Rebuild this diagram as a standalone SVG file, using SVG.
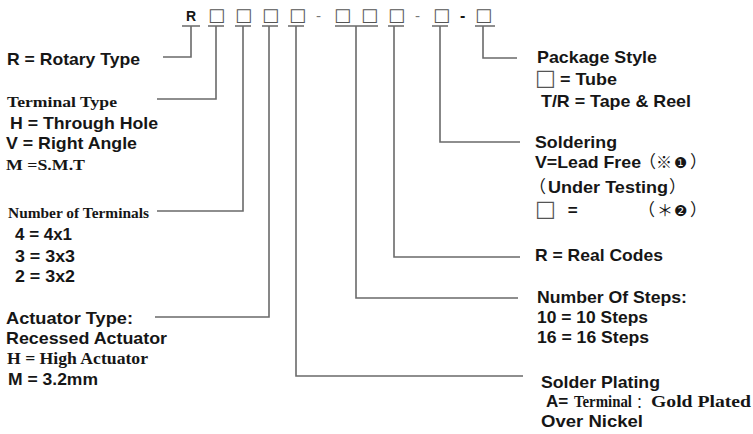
<svg xmlns="http://www.w3.org/2000/svg" width="753" height="434" viewBox="0 0 753 434">
<style>
.s{font-family:"Liberation Sans",Arial,sans-serif;font-weight:bold;font-size:17px;fill:#161616}
.r{font-family:"Liberation Serif","Times New Roman",serif;font-weight:bold;font-size:15px;fill:#161616}
.c{font-family:"Noto Sans CJK SC",sans-serif;font-weight:normal}
.d{font-family:"DejaVu Sans","Noto Sans CJK SC",sans-serif;font-weight:normal}
.bx{font-family:"DejaVu Sans",sans-serif;font-weight:normal;fill:#555}
.cb{font-family:"DejaVu Sans",sans-serif;font-weight:normal;fill:#555;font-size:18px}
.dash{font-family:"DejaVu Sans",sans-serif;font-weight:normal;fill:#777;font-size:14px}
.ln{fill:none;stroke:#6a6a6a;stroke-width:1.6}
</style>
<rect width="753" height="434" fill="#fff"/>
<g id="code">
<text class="s" x="186" y="21" style="font-size:14px">R</text>
<text class="cb" x="208" y="21">□</text>
<text class="cb" x="235" y="21">□</text>
<text class="cb" x="262" y="21">□</text>
<text class="cb" x="289" y="21">□</text>
<text class="dash" x="316" y="21">-</text>
<text class="cb" x="334" y="21">□</text>
<text class="cb" x="361" y="21">□</text>
<text class="cb" x="388" y="21">□</text>
<text class="dash" x="415" y="21">-</text>
<text class="cb" x="433" y="21">□</text>
<text class="s" x="460" y="21" style="font-size:16px">-</text>
<text class="cb" x="475" y="21">□</text>
</g>
<g id="connectors" class="ln">
<path d="M182,26H200M191,26V57H163"/>
<path d="M208,26H224M216,26V99H157"/>
<path d="M235,26H251M243,26V211H157"/>
<path d="M262,26H278M269,26V317H155"/>
<path d="M288,26H304M296,26V376H523"/>
<path d="M335,26H378M356,26V298H518"/>
<path d="M388,26H404M394,26V257H520"/>
<path d="M432,26H448M440,26V142H520"/>
<path d="M475,26H495M483,26V58H517"/>
</g>
<g id="rotary-type">
<text class="s" x="7" y="65" textLength="133" lengthAdjust="spacingAndGlyphs">R = Rotary Type</text>
</g>
<g id="terminal-type">
<text class="r" x="7" y="106.5" textLength="110" lengthAdjust="spacingAndGlyphs">Terminal Type</text>
<text class="s" x="10" y="128.5" textLength="148" lengthAdjust="spacingAndGlyphs">H = Through Hole</text>
<text class="s" x="6" y="148.5" textLength="131" lengthAdjust="spacingAndGlyphs">V = Right Angle</text>
<text class="r" x="6" y="169.5" textLength="79" lengthAdjust="spacingAndGlyphs">M =S.M.T</text>
</g>
<g id="number-of-terminals">
<text class="r" x="8" y="217.5" textLength="141" lengthAdjust="spacingAndGlyphs">Number of Terminals</text>
<text class="s" x="15" y="240" textLength="57" lengthAdjust="spacingAndGlyphs">4 = 4x1</text>
<text class="s" x="15" y="261.5" textLength="60" lengthAdjust="spacingAndGlyphs">3 = 3x3</text>
<text class="s" x="15" y="281.5" textLength="60" lengthAdjust="spacingAndGlyphs">2 = 3x2</text>
</g>
<g id="actuator-type">
<text class="s" x="6" y="324" textLength="127" lengthAdjust="spacingAndGlyphs">Actuator Type:</text>
<text class="s" x="6" y="344" textLength="161" lengthAdjust="spacingAndGlyphs">Recessed Actuator</text>
<text class="r" x="7" y="364" style="font-size:16px" textLength="141" lengthAdjust="spacingAndGlyphs">H = High Actuator</text>
<text class="s" x="8" y="385" textLength="90" lengthAdjust="spacingAndGlyphs">M = 3.2mm</text>
</g>
<g id="package-style">
<text class="s" x="537" y="63.3" textLength="120" lengthAdjust="spacingAndGlyphs">Package Style</text>
<text class="s" y="85"><tspan class="bx" x="535" style="font-size:22px">□</tspan><tspan x="560" textLength="57" lengthAdjust="spacingAndGlyphs">= Tube</tspan></text>
<text class="s" x="541" y="106.7" textLength="150" lengthAdjust="spacingAndGlyphs">T/R = Tape &amp; Reel</text>
</g>
<g id="soldering">
<text class="s" x="535" y="148" textLength="82" lengthAdjust="spacingAndGlyphs">Soldering</text>
<text class="s" y="168.3"><tspan x="535" textLength="106" lengthAdjust="spacingAndGlyphs">V=Lead Free</tspan><tspan class="c" x="639">（</tspan><tspan class="c" x="656" style="font-size:16px">※</tspan><tspan class="d" x="674" style="font-size:15px">❶</tspan><tspan class="c" x="690">）</tspan></text>
<text class="s" y="193.3"><tspan class="c" x="529">（</tspan><tspan x="548" textLength="120" lengthAdjust="spacingAndGlyphs">Under Testing</tspan><tspan class="c" x="669">）</tspan></text>
<text class="s" y="216"><tspan class="bx" x="535" style="font-size:22px">□</tspan><tspan x="563"> =</tspan><tspan class="c" x="638">（</tspan><tspan class="c" x="657" style="font-size:16px">＊</tspan><tspan class="d" x="674" style="font-size:15px">❷</tspan><tspan class="c" x="690">）</tspan></text>
</g>
<g id="real-codes">
<text class="s" x="535" y="260.7" textLength="128" lengthAdjust="spacingAndGlyphs">R = Real Codes</text>
</g>
<g id="number-of-steps">
<text class="s" x="537" y="303.3" textLength="150" lengthAdjust="spacingAndGlyphs">Number Of Steps:</text>
<text class="s" x="537" y="323.3" textLength="111" lengthAdjust="spacingAndGlyphs">10 = 10 Steps</text>
<text class="s" x="537" y="343.3" textLength="112" lengthAdjust="spacingAndGlyphs">16 = 16 Steps</text>
</g>
<g id="solder-plating">
<text class="s" x="541" y="387.7" textLength="119" lengthAdjust="spacingAndGlyphs">Solder Plating</text>
<text class="s" y="406.7"><tspan x="546">A=</tspan><tspan class="r" style="font-size:16px" x="574" textLength="58" lengthAdjust="spacingAndGlyphs">Terminal</tspan><tspan class="c" style="font-size:14px" x="636">：</tspan><tspan class="r" style="font-size:16px" x="651" textLength="100" lengthAdjust="spacingAndGlyphs">Gold Plated</tspan></text>
<text class="s" x="541" y="426.7" textLength="102" lengthAdjust="spacingAndGlyphs">Over Nickel</text>
</g>
</svg>
